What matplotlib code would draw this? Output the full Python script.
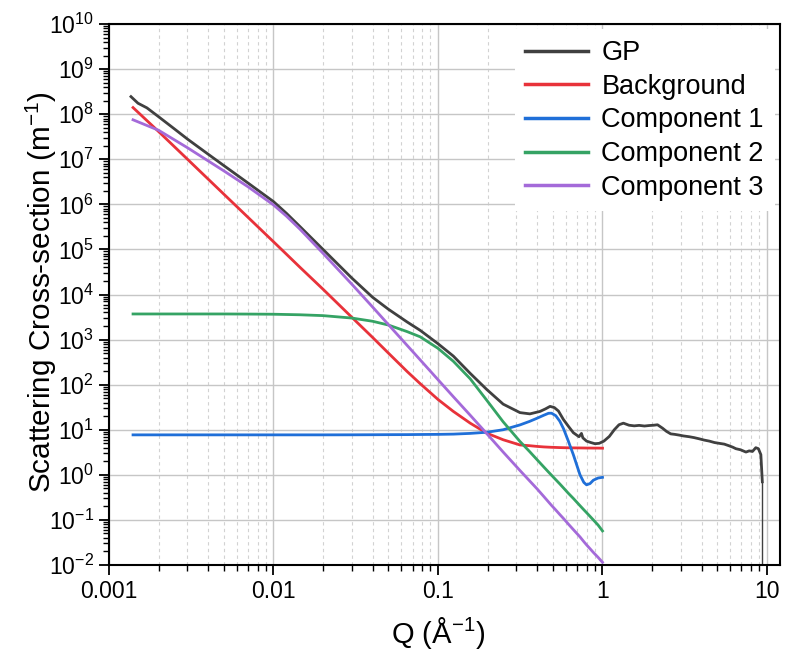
import matplotlib
matplotlib.use("Agg")
import matplotlib.pyplot as plt
from matplotlib.ticker import FixedLocator, NullFormatter, FixedFormatter

plt.rcParams["font.family"] = ["Liberation Sans", "DejaVu Sans"]
plt.rcParams["mathtext.fontset"] = "custom"
plt.rcParams["mathtext.rm"] = "Liberation Sans"
plt.rcParams["mathtext.it"] = "Liberation Sans:italic"

# ---------------------------------------------------------------------
# Data (Q in 1/A, cross-section in 1/m)
# ---------------------------------------------------------------------
q_model = [0.0014, 0.002, 0.003, 0.005, 0.007, 0.01, 0.012, 0.0145, 0.02,
           0.03, 0.04, 0.05, 0.065, 0.078, 0.1, 0.124, 0.157, 0.198, 0.249,
           0.315, 0.36, 0.40, 0.44, 0.47, 0.49, 0.52, 0.55, 0.58, 0.62,
           0.665, 0.73, 0.77, 0.80, 0.84, 0.88, 0.94, 1.0]

background = [1.4e8, 4.13e7, 1.0e7, 1.67e6, 5.15e5, 1.48e5, 7.8e4, 4.0e4,
              1.31e4, 3.1e3, 1.12e3, 500, 195, 105, 47, 25.5, 14, 8.4, 6.0,
              4.6, 4.43, 4.27, 4.16, 4.11, 4.08, 4.05, 4.02, 4.0, 3.98, 3.96,
              3.95, 3.94, 3.93, 3.93, 3.92, 3.92, 3.9]

component1 = [7.7, 7.7, 7.7, 7.7, 7.7, 7.7, 7.7, 7.7, 7.7, 7.72, 7.75,
              7.78, 7.8, 7.85, 7.9, 8.0, 8.3, 8.8, 10, 12.8, 15.3, 18, 21,
              23.2, 23.3, 20.5, 15.5, 10.5, 5.6, 2.8, 1.0, 0.68, 0.6, 0.64,
              0.76, 0.85, 0.88]

component2 = [3.7e3, 3.7e3, 3.7e3, 3.7e3, 3.68e3, 3.65e3, 3.6e3, 3.55e3,
              3.4e3, 3.0e3, 2.55e3, 2.1e3, 1.5e3, 1.15e3, 640, 330, 135, 45,
              15, 5.5, 3.3, 2.17, 1.49, 1.15, 0.98, 0.78, 0.63, 0.51, 0.39,
              0.30, 0.207, 0.168, 0.145, 0.12, 0.10, 0.077, 0.057]

component3 = [7.5e7, 4.4e7, 1.8e7, 5.5e6, 2.45e6, 9.7e5, 5.45e5, 2.8e5,
              8.2e4, 1.68e4, 5.3e3, 2.14e3, 740, 354, 129, 54, 21, 8.2, 3.2,
              1.25, 0.74, 0.49, 0.33, 0.25, 0.21, 0.166, 0.132, 0.107, 0.081,
              0.061, 0.042, 0.033, 0.028, 0.023, 0.019, 0.0148, 0.0115]

gp_q = [0.00136, 0.0015, 0.0017, 0.002, 0.0025, 0.003, 0.004, 0.005, 0.007,
        0.01, 0.012, 0.0145, 0.02, 0.03, 0.04, 0.05, 0.065, 0.078, 0.1,
        0.124, 0.157, 0.198, 0.249, 0.315, 0.362, 0.417, 0.45, 0.48, 0.51,
        0.54, 0.578, 0.62, 0.665, 0.72, 0.745, 0.76, 0.8, 0.85, 0.9, 0.955,
        1.02, 1.10, 1.18, 1.26, 1.34, 1.45, 1.56, 1.67, 1.8, 1.92, 2.05,
        2.16, 2.32, 2.45, 2.6, 2.75, 2.93, 3.1, 3.37, 3.6, 3.87, 4.15, 4.46,
        4.8, 5.12, 5.5, 5.89, 6.2, 6.47, 6.9, 7.45, 7.8, 8.16, 8.55, 8.87,
        9.18, 9.37]

gp_i = [2.45e8, 1.75e8, 1.38e8, 8.8e7, 4.7e7, 2.8e7, 1.3e7, 7.2e6, 2.97e6,
        1.15e6, 6.3e5, 3.2e5, 1.0e5, 2.3e4, 8.7e3, 4.7e3, 2.45e3, 1.6e3,
        810, 430, 178, 78, 37, 24, 22.5, 25.5, 29, 33, 31, 26, 17, 12, 8.6,
        7.0, 8.3, 6.6, 5.6, 5.2, 4.9, 5.0, 5.6, 7.1, 10, 12.9, 14, 12.6,
        12.2, 12.5, 12.1, 12.4, 12.6, 12.9, 10.8, 9.2, 8.1, 7.9, 7.6, 7.3,
        7.0, 6.7, 6.3, 5.9, 5.6, 5.2, 5.0, 4.8, 4.4, 4.1, 3.8, 3.6, 3.2, 3.4,
        3.3, 4.0, 3.8, 2.8, 0.7]

# last GP point has an error bar running off the bottom of the axis
gp_drop_q = 9.37
gp_drop_low = 1e-3

series = [
    ("GP", gp_q, gp_i, "#404040"),
    ("Background", q_model, background, "#e8323a"),
    ("Component 1", q_model, component1, "#1f6fd8"),
    ("Component 2", q_model, component2, "#35a364"),
    ("Component 3", q_model, component3, "#a46ad9"),
]

x_major = [0.001, 0.01, 0.1, 1, 10]
x_labels = ["0.001", "0.01", "0.1", "1", "10"]
y_exp = list(range(-2, 11))

# ---------------------------------------------------------------------
# Figure
# ---------------------------------------------------------------------
fig = plt.figure(figsize=(7.85, 6.58), dpi=100)
ax = fig.add_axes([109 / 785, 1 - 565 / 658, 671 / 785, 541 / 658])
ax.set_xscale("log")
ax.set_yscale("log")

for label, q, i, color in series:
    ax.plot(q, i, color=color, lw=2.0, label=label, solid_joinstyle="round")
ax.vlines(gp_drop_q, gp_drop_low, gp_i[-1], color="#404040", lw=1.0)

ax.set_xlim(1e-3, 12)
ax.set_ylim(1e-2, 1e10)

x_minor = [k * 10.0 ** e for e in range(-3, 2) for k in range(2, 10)]
x_minor = [v for v in x_minor if v < 12]
ax.xaxis.set_major_locator(FixedLocator(x_major))
ax.xaxis.set_major_formatter(FixedFormatter(x_labels))
ax.xaxis.set_minor_locator(FixedLocator(x_minor))
ax.xaxis.set_minor_formatter(NullFormatter())

y_major = [10.0 ** e for e in y_exp]
y_minor = [k * 10.0 ** e for e in y_exp[:-1] for k in range(2, 10)]
ax.yaxis.set_major_locator(FixedLocator(y_major))
ax.yaxis.set_major_formatter(
    FixedFormatter([r"$\mathregular{10^{%d}}$" % e for e in y_exp]))
ax.yaxis.set_minor_locator(FixedLocator(y_minor))
ax.yaxis.set_minor_formatter(NullFormatter())

ax.grid(which="major", color="#c6c6c6", lw=1.0, ls="-")
ax.xaxis.grid(which="minor", color="#d2d2d2", lw=0.8, ls=(0, (3, 3)))
ax.set_axisbelow(True)

ax.tick_params(which="major", direction="out", length=7, width=1.3,
               labelsize=16.5, pad=4, colors="black")
ax.tick_params(which="minor", direction="out", length=4, width=1.0)
for sp in ax.spines.values():
    sp.set_linewidth(1.5)

fig.text(41 / 785, 1 - 292 / 658, r"Scattering Cross-section (m$^{\mathregular{-1}}$)",
         rotation=90, ha="center", va="center", fontsize=21.4)
fig.text(438 / 785, 1 - 633 / 658, r"Q (Å$^{\mathregular{-1}}$)",
         ha="center", va="center", fontsize=21)

leg = ax.legend(loc="upper right", fontsize=19.5, handlelength=2.3,
                labelspacing=0.28, handletextpad=0.5, borderaxespad=0.2,
                frameon=True, fancybox=False, framealpha=1.0,
                edgecolor="none", facecolor="white")
for line in leg.get_lines():
    line.set_linewidth(2.5)

fig.savefig("out.png", dpi=100)
plt.close(fig)
